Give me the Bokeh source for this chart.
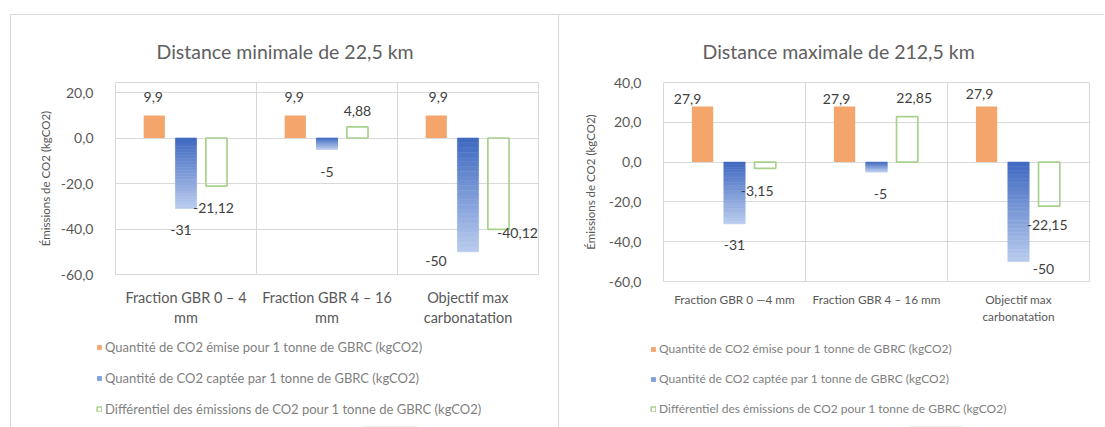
from bokeh.plotting import figure
from bokeh.layouts import row, column
from bokeh.models import FixedTicker, Legend, LegendItem, Range1d
from bokeh.core.properties import value
from bokeh.embed import file_html
from bokeh.resources import INLINE

# ---- data -------------------------------------------------------------
categories_min = ["Fraction GBR 0 – 4\nmm", "Fraction GBR 4 – 16\nmm", "Objectif max\ncarbonatation"]
categories_max = ["Fraction GBR 0 —4 mm", "Fraction GBR 4 – 16 mm", "Objectif max\ncarbonatation"]

emitted_min = [9.9, 9.9, 9.9]
captured_min = [-31, -5, -50]
diff_min = [-21.12, 4.88, -40.12]

emitted_max = [27.9, 27.9, 27.9]
captured_max = [-31, -5, -50]
diff_max = [-3.15, 22.85, -22.15]

yticks_min = [-60, -40, -20, 0, 20]
yticks_max = [-60, -40, -20, 0, 20, 40]

series_names = [
    "Quantité de CO2 émise pour 1 tonne de GBRC (kgCO2)",
    "Quantité de CO2 captée par 1 tonne de GBRC (kgCO2)",
    "Différentiel des émissions de CO2 pour 1 tonne de GBRC (kgCO2)",
]

# ---- styling ----------------------------------------------------------
FONT = "Lato"
ORANGE = "#f4a56c"
GREEN = "#a9d18e"
BLUE_TOP = (62, 104, 192)
BLUE_BOTTOM = (186, 204, 238)
BLUE_KEY = "#7f9fda"
GRID = "#d9d9d9"
TEXT = "#595959"
LABEL = "#404040"
BORDER = "1px solid #d9d9d9"

BAR_W = 0.15
OFFS = (-0.225, 0.0, 0.216)

# pixel nudges for data labels: (dx, dy) per category
lbl_min = {
    "emit": [(-1, -18), (-1, -18), (2, -18)],
    "capt": [(-5, 21), (0, 23), (-32, 9)],
    "diff": [(-3, 22), (0, -16), (19, 4)],
}
lbl_max = {
    "emit": [(-15, -8), (-8, -8), (-7, -13)],
    "capt": [(0, 21), (4, 22), (25, 7)],
    "diff": [(-8, 23), (7, -19), (-2, 19)],
}


def fmt(v):
    if float(v).is_integer():
        return str(int(v))
    return ("%g" % v).replace(".", ",")


def blend(t):
    r = [round(a + (b - a) * t) for a, b in zip(BLUE_TOP, BLUE_BOTTOM)]
    return "#%02x%02x%02x" % tuple(r)


def chart(title, cats, emitted, captured, diff, yticks, y_end, lbl, cfg):
    p = figure(frame_width=cfg["fw"], frame_height=cfg["fh"],
               output_backend="svg", toolbar_location=None,
               x_range=Range1d(0, len(cats)), y_range=Range1d(yticks[0], y_end),
               min_border_left=cfg["l"], min_border_right=cfg["r"],
               min_border_top=cfg["t"], min_border_bottom=cfg["b"],
               outline_line_color=GRID, background_fill_color="white",
               border_fill_color="white", margin=cfg["margin"],
               styles=cfg["styles"])

    p.title.text = title
    p.title.align = "left"
    p.title.offset = cfg["title_off"]
    p.title.text_font = FONT
    p.title.text_font_size = "19.5px"
    p.title.text_font_style = "normal"
    p.title.text_color = "#606060"
    p.title.standoff = 40

    xc = [i + 0.5 for i in range(len(cats))]

    # orange: emitted
    p.vbar(x=[x + OFFS[0] for x in xc], top=emitted, bottom=0, width=BAR_W,
           fill_color=ORANGE, line_color=None)

    # blue: captured, drawn as stacked slices for a vertical gradient
    n = 24
    for k in range(n):
        tops = [v * k / n for v in captured]
        bots = [v * (k + 1) / n for v in captured]
        c = blend((k + 0.5) / n)
        p.vbar(x=[x + OFFS[1] for x in xc], top=tops, bottom=bots, width=BAR_W,
               fill_color=c, line_color=c, line_width=0.6)

    # green: differential, outline only
    p.vbar(x=[x + OFFS[2] for x in xc], top=diff, bottom=0, width=BAR_W,
           fill_color=None, line_color=GREEN, line_width=1.7)

    # data labels
    for vals, off, key in ((emitted, OFFS[0], "emit"), (captured, OFFS[1], "capt"),
                           (diff, OFFS[2], "diff")):
        for i, v in enumerate(vals):
            dx, dy = lbl[key][i]
            p.text(x=[xc[i] + off], y=[v], text=[fmt(v)], x_offset=dx, y_offset=dy,
                   text_align="center", text_baseline="middle",
                   text_font=value(FONT), text_font_size="14px", text_color=LABEL)

    # axes
    p.xaxis.ticker = FixedTicker(ticks=xc)
    p.xaxis.major_label_overrides = {x: c for x, c in zip(xc, cats)}
    p.xaxis.major_label_text_font = FONT
    p.xaxis.major_label_text_font_size = cfg["cat_font"]
    p.xaxis.major_label_text_line_height = cfg["cat_lh"]
    p.xaxis.major_label_text_color = TEXT
    p.xaxis.major_label_standoff = cfg["cat_standoff"]
    p.xaxis.axis_line_color = None
    p.xaxis.major_tick_line_color = None
    p.xaxis.minor_tick_line_color = None

    p.yaxis.ticker = FixedTicker(ticks=yticks)
    p.yaxis.major_label_overrides = {t: ("%.1f" % t).replace(".", ",") for t in yticks}
    p.yaxis.major_label_text_font = FONT
    p.yaxis.major_label_text_font_size = "14px"
    p.yaxis.major_label_text_color = TEXT
    p.yaxis.major_label_standoff = 16
    p.yaxis.axis_line_color = None
    p.yaxis.major_tick_line_color = None
    p.yaxis.minor_tick_line_color = None
    p.yaxis.axis_label = "Émissions de CO2 (kgCO2)"
    p.yaxis.axis_label_text_font = FONT
    p.yaxis.axis_label_text_font_size = "11.5px"
    p.yaxis.axis_label_text_font_style = "normal"
    p.yaxis.axis_label_text_color = TEXT
    p.yaxis.axis_label_standoff = cfg["ylab_standoff"]

    p.xgrid.ticker = FixedTicker(ticks=list(range(1, len(cats))))
    p.xgrid.grid_line_color = GRID
    p.ygrid.grid_line_color = GRID
    return p


def key_strip(emitted, captured, diff, cfg):
    """Series key drawn under a chart, inside its own small canvas.

    The key's renderers carry the first value of each series; the strip's
    y range lies above them, so only their legend swatches show."""
    k = figure(frame_width=cfg["w"], frame_height=cfg["h"], output_backend="svg",
               toolbar_location=None, x_range=Range1d(0, 1), y_range=Range1d(100, 101),
               min_border=0, outline_line_color=None, border_fill_color="white",
               background_fill_color="white", margin=cfg["margin"],
               styles=cfg["styles"])
    k.axis.visible = False
    k.grid.visible = False
    r_e = k.vbar(x=[0.5], top=[emitted[0]], bottom=0, width=0.1,
                 fill_color=ORANGE, line_color=None)
    r_c = k.vbar(x=[0.5], top=[captured[0]], bottom=0, width=0.1,
                 fill_color=BLUE_KEY, line_color=None)
    r_d = k.vbar(x=[0.5], top=[diff[0]], bottom=0, width=0.1,
                 fill_color=None, line_color=GREEN, line_width=1.5)
    legend = Legend(items=[LegendItem(label=series_names[0], renderers=[r_e]),
                           LegendItem(label=series_names[1], renderers=[r_c]),
                           LegendItem(label=series_names[2], renderers=[r_d])],
                    location=cfg["loc"], orientation="vertical",
                    glyph_width=6, glyph_height=6, label_standoff=3,
                    label_text_font=FONT, label_text_font_size=cfg["font"],
                    label_text_color="#7f7f7f", label_height=14, spacing=cfg["spacing"],
                    padding=0, margin=0, border_line_color=None,
                    background_fill_alpha=0)
    k.add_layout(legend, "center")
    return k


p1 = chart("Distance minimale de 22,5 km", categories_min, emitted_min, captured_min,
           diff_min, yticks_min, 24.4, lbl_min,
           dict(fw=421, fh=191, l=104, r=22, t=67, b=62, margin=(14, 0, 0, 10),
                styles={"border-top": BORDER, "border-left": BORDER, "border-right": BORDER},
                title_off=41, cat_font="14.5px", cat_lh=1.23, cat_standoff=8,
                ylab_standoff=6))
k1 = key_strip(emitted_min, captured_min, diff_min,
               dict(w=547, h=92, margin=(0, 0, 0, 10),
                    styles={"border-left": BORDER, "border-right": BORDER},
                    loc=(85, 10), font="13px", spacing=15))

p2 = chart("Distance maximale de 212,5 km", categories_max, emitted_max, captured_max,
           diff_max, yticks_max, 40, lbl_max,
           dict(fw=426, fh=198, l=104, r=15, t=67, b=55, margin=(14, 0, 0, 0),
                styles={"border-top": BORDER},
                title_off=39, cat_font="11.8px", cat_lh=1.17, cat_standoff=4,
                ylab_standoff=9))
k2 = key_strip(emitted_max, captured_max, diff_max,
               dict(w=545, h=92, margin=(0, 0, 0, 0), styles={},
                    loc=(91, 11), font="12px", spacing=15))

layout = row(column(p1, k1), column(p2, k2))
open("out.html", "w").write(file_html(layout, INLINE))
